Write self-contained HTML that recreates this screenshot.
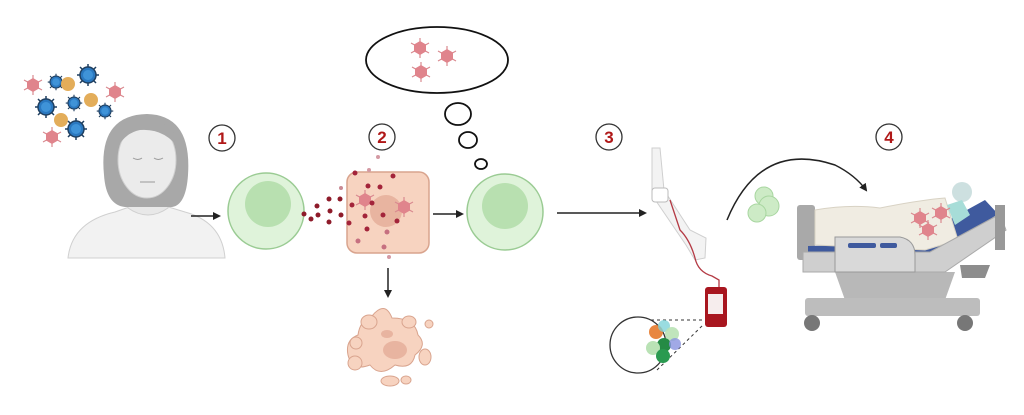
<!DOCTYPE html>
<html><head><meta charset="utf-8"><style>
html,body{margin:0;padding:0;background:#fff;width:1024px;height:415px;overflow:hidden}
svg{display:block}
text{font-family:"Liberation Sans",sans-serif;font-weight:bold;fill:#b01818;font-size:17px}
</style></head><body>
<svg width="1024" height="415" viewBox="0 0 1024 415" xmlns="http://www.w3.org/2000/svg">
<defs>
<g id="vr">
  <g stroke="#d98a90" stroke-width="1.2">
    <line x1="0" y1="-10" x2="0" y2="10"/><line x1="-9" y1="-5" x2="9" y2="5"/><line x1="-9" y1="5" x2="9" y2="-5"/>
  </g>
  <polygon points="0,-7 6,-3.5 6,3.5 0,7 -6,3.5 -6,-3.5" fill="#e0848c"/>
</g>
<g id="vb">
  <g stroke="#1f3f60" stroke-width="1.5">
    <line x1="0" y1="-11" x2="0" y2="11"/><line x1="-11" y1="0" x2="11" y2="0"/><line x1="-8" y1="-8" x2="8" y2="8"/><line x1="-8" y1="8" x2="8" y2="-8"/>
  </g>
  <circle r="8" fill="#2a78c0" stroke="#1f3f60" stroke-width="1.5"/>
  <circle r="5" fill="#3f93d8"/>
</g>
<marker id="ah" markerWidth="8" markerHeight="8" refX="6" refY="4" orient="auto" markerUnits="userSpaceOnUse">
  <path d="M0,0 L8,4 L0,8 Z" fill="#222"/>
</marker>
</defs>

<!-- virus cluster -->
<use href="#vr" x="33" y="85"/>
<use href="#vb" x="56" y="82" transform="translate(56 82) scale(.75) translate(-56 -82)"/><circle cx="68" cy="84" r="7" fill="#e3ad5a"/>
<use href="#vb" x="88" y="75"/>
<use href="#vr" x="115" y="92"/>
<use href="#vb" x="46" y="107"/><use href="#vb" x="74" y="103" transform="translate(74 103) scale(.75) translate(-74 -103)"/><circle cx="91" cy="100" r="7" fill="#e3ad5a"/>
<use href="#vb" x="105" y="111" transform="translate(105 111) scale(.75) translate(-105 -111)"/>
<circle cx="61" cy="120" r="7" fill="#e3ad5a"/><use href="#vb" x="76" y="129"/>
<use href="#vr" x="52" y="137"/>

<!-- woman -->
<g>
  <path d="M68,258 Q72,222 115,212 L135,205 L162,205 L185,212 Q222,222 225,258 Z" fill="#f2f2f2" stroke="#d0d0d0"/>
  <path d="M128,180 L128,208 Q148,222 168,208 L168,180 Z" fill="#e8e8e8" stroke="#cfcfcf"/>
  <path d="M104,175 Q98,115 147,114 Q192,115 188,175 Q186,205 172,207 L125,207 Q106,205 104,175 Z" fill="#a8a8a8"/>
  <ellipse cx="147" cy="160" rx="29" ry="38" fill="#ebebeb" stroke="#cfcfcf"/>
  <path d="M117,148 Q120,120 150,120 Q175,122 180,150 Q165,128 140,130 Q125,133 117,148 Z" fill="#a8a8a8"/>
  <path d="M133,158 Q138,161 142,158 M154,158 Q158,161 163,158 M140,182 L155,182" stroke="#999" fill="none"/>
</g>
<line x1="191" y1="216" x2="219" y2="216" stroke="#222" stroke-width="1.5" marker-end="url(#ah)"/>

<!-- circle labels -->
<g fill="#fff" stroke="#333" stroke-width="1.3">
<circle cx="222" cy="138" r="13"/><circle cx="382" cy="137" r="13"/><circle cx="609" cy="137" r="13"/><circle cx="889" cy="137" r="13"/>
</g>
<text x="222" y="144" text-anchor="middle">1</text>
<text x="382" y="143" text-anchor="middle">2</text>
<text x="609" y="143" text-anchor="middle">3</text>
<text x="889" y="143" text-anchor="middle">4</text>

<!-- green cell 1 -->
<circle cx="266" cy="211" r="38" fill="#dff3da" stroke="#9acb93" stroke-width="1.5"/>
<circle cx="268" cy="204" r="23" fill="#b8e0b0"/>

<!-- dots -->
<g fill="#8e1b2a">
<circle cx="304" cy="214" r="2.5"/><circle cx="311" cy="219" r="2.5"/><circle cx="318" cy="215" r="2.5"/><circle cx="317" cy="206" r="2.5"/>
<circle cx="329" cy="199" r="2.5"/><circle cx="330" cy="211" r="2.5"/><circle cx="329" cy="222" r="2.5"/><circle cx="341" cy="215" r="2.5"/>
<circle cx="340" cy="199" r="2.5"/><circle cx="341" cy="188" r="2" fill="#c98a94"/>
</g>
<!-- peach cell -->
<rect x="347" y="172" width="82" height="81" rx="10" fill="#f7d3c0" stroke="#d9a48e" stroke-width="1.5"/>
<circle cx="386" cy="211" r="16" fill="#e8b4a0"/>
<use href="#vr" x="365" y="200"/><use href="#vr" x="404" y="207"/>
<g fill="#a3243a">
<circle cx="355" cy="173" r="2.5"/><circle cx="368" cy="186" r="2.5"/><circle cx="393" cy="176" r="2.5"/><circle cx="380" cy="187" r="2.5"/>
<circle cx="352" cy="205" r="2.5"/><circle cx="365" cy="216" r="2.5"/><circle cx="372" cy="203" r="2.5"/><circle cx="383" cy="215" r="2.5"/>
<circle cx="397" cy="221" r="2.5"/><circle cx="349" cy="223" r="2.5"/><circle cx="367" cy="229" r="2.5"/><circle cx="358" cy="241" r="2.5" fill="#c67080"/>
<circle cx="384" cy="247" r="2.5" fill="#c67080"/><circle cx="387" cy="232" r="2.5" fill="#c67080"/><circle cx="378" cy="157" r="2" fill="#d49aa4"/>
<circle cx="369" cy="170" r="2" fill="#d49aa4"/><circle cx="389" cy="257" r="2" fill="#d49aa4"/>
</g>
<line x1="388" y1="268" x2="388" y2="296" stroke="#222" stroke-width="1.5" marker-end="url(#ah)"/>
<!-- blob -->
<g fill="#f7d3c0" stroke="#d9a48e" stroke-width="1">
<path d="M372,316 Q385,300 392,318 Q415,318 418,335 Q428,345 415,355 Q412,370 395,365 Q380,378 370,365 Q352,372 348,355 Q345,340 358,335 Q360,320 372,316 Z"/>
<ellipse cx="369" cy="322" rx="8" ry="7"/><ellipse cx="409" cy="322" rx="7" ry="6"/><ellipse cx="429" cy="324" rx="4" ry="4"/>
<ellipse cx="425" cy="357" rx="6" ry="8"/><ellipse cx="355" cy="363" rx="7" ry="7"/><ellipse cx="390" cy="381" rx="9" ry="5"/><ellipse cx="406" cy="380" rx="5" ry="4"/><ellipse cx="356" cy="343" rx="6" ry="6"/>
</g>
<ellipse cx="395" cy="350" rx="12" ry="9" fill="#e8b4a0"/><ellipse cx="387" cy="334" rx="6" ry="4" fill="#e8b4a0"/>

<line x1="433" y1="214" x2="462" y2="214" stroke="#222" stroke-width="1.5" marker-end="url(#ah)"/>
<!-- green cell 2 -->
<circle cx="505" cy="212" r="38" fill="#dff3da" stroke="#9acb93" stroke-width="1.5"/>
<circle cx="505" cy="206" r="23" fill="#b8e0b0"/>

<!-- thought bubble -->
<ellipse cx="437" cy="60" rx="71" ry="33" fill="#fff" stroke="#111" stroke-width="1.8"/>
<ellipse cx="458" cy="114" rx="13" ry="11" fill="#fff" stroke="#111" stroke-width="1.8"/>
<ellipse cx="468" cy="140" rx="9" ry="8" fill="#fff" stroke="#111" stroke-width="1.8"/>
<ellipse cx="481" cy="164" rx="6" ry="5" fill="#fff" stroke="#111" stroke-width="1.8"/>
<use href="#vr" x="420" y="48"/><use href="#vr" x="447" y="56"/><use href="#vr" x="421" y="72"/>

<line x1="557" y1="213" x2="645" y2="213" stroke="#222" stroke-width="1.5" marker-end="url(#ah)"/>

<!-- arm -->
<path d="M652,148 L660,148 L664,190 L690,230 L706,238 L705,258 L695,260 L686,245 L652,195 Z" fill="#f3f3f3" stroke="#cfcfcf"/>
<rect x="652" y="188" width="16" height="14" rx="3" fill="#fff" stroke="#bbb"/>
<path d="M670,200 L680,230 Q690,240 695,258 Q698,272 712,276 L719,280 L719,290" stroke="#b43a44" fill="none" stroke-width="1.3"/>
<rect x="705" y="287" width="22" height="40" rx="3" fill="#a8161f"/>
<rect x="708" y="294" width="15" height="20" fill="#f6eded"/>
<circle cx="638" cy="345" r="28" fill="#fff" stroke="#333" stroke-width="1.3"/>
<path d="M651,320 L702,320 M657,370 L703,325" stroke="#333" stroke-dasharray="3,3"/>
<circle cx="656" cy="332" r="7" fill="#e57a2c" opacity=".9"/><circle cx="664" cy="326" r="6" fill="#7fd3d8" opacity=".8"/>
<circle cx="672" cy="334" r="7" fill="#b9e2b5" opacity=".9"/><circle cx="664" cy="345" r="7" fill="#258b45"/>
<circle cx="675" cy="344" r="6" fill="#8a94e0" opacity=".8"/><circle cx="653" cy="348" r="7" fill="#b9e2b5"/><circle cx="663" cy="356" r="7" fill="#2a9a50"/>

<!-- curved arrow -->
<path d="M727,220 Q760,140 835,165 Q855,175 866,190" fill="none" stroke="#222" stroke-width="1.5" marker-end="url(#ah)"/>
<circle cx="764" cy="196" r="9" fill="#cdebc6" stroke="#a8d6a0"/><circle cx="769" cy="206" r="10" fill="#cdebc6" stroke="#a8d6a0"/><circle cx="757" cy="213" r="9" fill="#cdebc6" stroke="#a8d6a0"/>

<!-- bed -->
<rect x="797" y="205" width="18" height="55" rx="3" fill="#a9a9a9"/>
<path d="M835,272 L955,272 L945,300 L845,300 Z" fill="#b8b8b8"/>
<rect x="805" y="298" width="175" height="18" rx="3" fill="#bdbdbd"/>
<circle cx="812" cy="323" r="8" fill="#777"/><circle cx="965" cy="323" r="8" fill="#777"/>
<path d="M808,246 L905,244 L985,200 L998,214 L920,265 L808,262 Z" fill="#3f5a9e"/>
<path d="M815,210 Q850,204 880,208 Q920,200 945,198 L958,240 L925,250 L815,245 Z" fill="#f0ece2" stroke="#d8d2c4"/>
<circle cx="962" cy="192" r="10" fill="#cde0e0"/><path d="M947,205 L962,200 L970,215 L955,225 Z" fill="#a7ddd8"/>
<use href="#vr" x="920" y="218"/><use href="#vr" x="928" y="230"/><use href="#vr" x="941" y="213"/>
<path d="M803,252 L930,252 L1000,214 L1006,230 L945,272 L803,272 Z" fill="#cfcfcf" stroke="#aaa"/>
<path d="M960,265 L990,265 L985,278 L962,278 Z" fill="#8d8d8d"/>
<rect x="995" y="205" width="10" height="45" fill="#999"/>
<path d="M835,237 L900,237 Q915,240 915,255 L915,272 L835,272 Z" fill="#d9d9d9" stroke="#999"/>
<rect x="848" y="243" width="28" height="5" rx="2" fill="#3f5a9e"/><rect x="880" y="243" width="17" height="5" rx="2" fill="#3f5a9e"/>
</svg>
</body></html>
